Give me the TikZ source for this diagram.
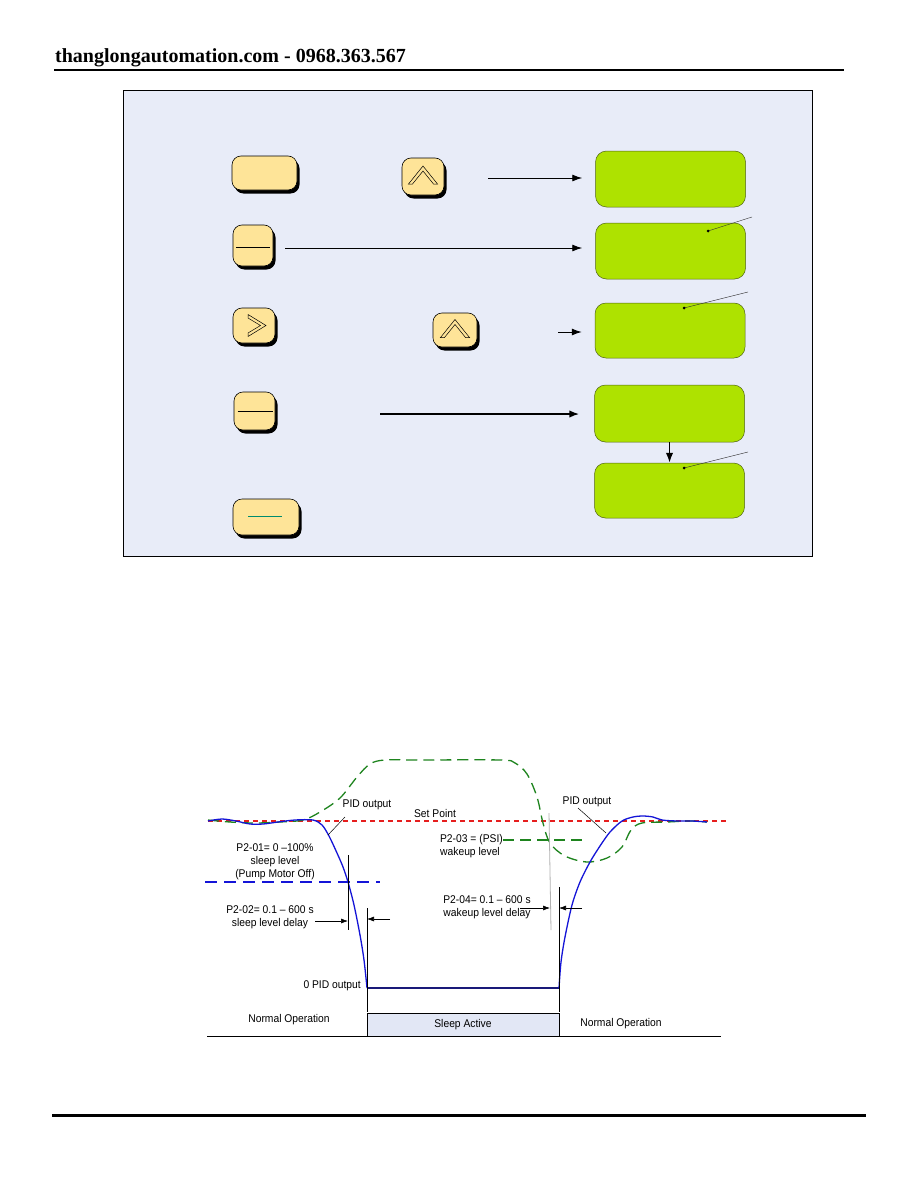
\documentclass[tikz,border=0pt]{standalone}
\usepackage{fontspec}
\setmainfont{Liberation Sans}
\newfontfamily\hdrfont{Liberation Serif}
\newfontfamily\lblfont{Liberation Sans}[FakeStretch=0.92]
\usetikzlibrary{shadows,arrows.meta}
\definecolor{panelfill}{RGB}{232,236,248}
\definecolor{btnfill}{RGB}{254,228,152}
\definecolor{lcdfill}{RGB}{174,226,0}
\definecolor{lcdline}{RGB}{80,100,20}
\definecolor{pidblue}{RGB}{20,20,215}
\definecolor{pidnavy}{RGB}{25,25,120}
\definecolor{wgreen}{RGB}{30,132,30}
\definecolor{spred}{RGB}{230,30,30}
\definecolor{sleepfill}{RGB}{226,231,245}
\definecolor{tealline}{RGB}{0,140,110}
\tikzset{
  btn/.style={rectangle, rounded corners=9pt, draw=black, line width=0.6pt, fill=btnfill,
    drop shadow={shadow xshift=2.5pt, shadow yshift=-3.5pt, fill=black, opacity=1}, inner sep=0pt},
  lcd/.style={rectangle, rounded corners=11pt, draw=lcdline, line width=0.5pt, fill=lcdfill,
    minimum width=150pt, inner sep=0pt},
  flow/.style={line width=0.9pt, -{Latex[length=10pt,width=7pt]}},
  flowthick/.style={line width=1.6pt, -{Latex[length=10pt,width=7.5pt]}},
  leader/.style={line width=0.4pt, black!80},
  chev/.style={draw=black, line width=0.5pt, fill=btnfill, line join=miter},
  lbl/.style={font=\lblfont\fontsize{11.2}{13}\selectfont, inner sep=0pt, align=center},
  dim/.style={line width=0.6pt, -{Latex[length=7pt,width=5pt]}},
}
\begin{document}
\begin{tikzpicture}[x=1pt,y=-1pt]
\useasboundingbox (0,0) rectangle (918,1188);
\fill[white] (0,0) rectangle (918,1188);

% header
\node[anchor=base west, font=\hdrfont\bfseries\fontsize{20}{24}\selectfont, inner sep=0pt] (hdr) at (55,63) {thanglongautomation.com - 0968.363.567};
\draw[line width=2pt] (54,70) -- (844,70);
% footer
\draw[line width=3pt] (52,1115) -- (866,1115);

% panel
\node[draw=black, line width=0.8pt, fill=panelfill, minimum width=689pt, minimum height=466pt, inner sep=0pt] (panel) at (467.5,323) {};

% buttons
\node[btn, minimum width=65pt, minimum height=34pt] (bA) at (264.5,173) {};
\node[btn, minimum width=42pt, minimum height=37pt] (bUp1) at (423,176.5) {};
\node[btn, minimum width=40pt, minimum height=41pt] (bB) at (253,245.5) {};
\node[btn, minimum width=42pt, minimum height=35pt] (bRt) at (254,325.5) {};
\node[btn, minimum width=44pt, minimum height=34pt] (bUp2) at (455,330) {};
\node[btn, minimum width=41pt, minimum height=38pt] (bC) at (254.5,411) {};
\node[btn, minimum width=66pt, minimum height=36pt] (bD) at (266,517) {};

% glyphs
\draw[chev] ([shift={(-14.5,7.5)}]bUp1.center) -- ([shift={(0,-10.5)}]bUp1.center) -- ([shift={(14.5,7.5)}]bUp1.center)
  -- ([shift={(10.5,7.5)}]bUp1.center) -- ([shift={(0,-5.5)}]bUp1.center) -- ([shift={(-10.5,7.5)}]bUp1.center) -- cycle;
\draw[chev] ([shift={(-14.5,7.5)}]bUp2.center) -- ([shift={(0,-10.5)}]bUp2.center) -- ([shift={(14.5,7.5)}]bUp2.center)
  -- ([shift={(10.5,7.5)}]bUp2.center) -- ([shift={(0,-5.5)}]bUp2.center) -- ([shift={(-10.5,7.5)}]bUp2.center) -- cycle;
\draw[chev] ([shift={(-6,-11)}]bRt.center) -- ([shift={(12,0)}]bRt.center) -- ([shift={(-6,11)}]bRt.center)
  -- ([shift={(-6,7.5)}]bRt.center) -- ([shift={(6.5,0)}]bRt.center) -- ([shift={(-6,-7.5)}]bRt.center) -- cycle;
\draw[line width=0.8pt] ([shift={(-17,1.5)}]bB.center) -- ([shift={(17,1.5)}]bB.center);
\draw[line width=0.8pt] ([shift={(-17,0)}]bC.center) -- ([shift={(18,0)}]bC.center);
\draw[line width=0.8pt, tealline] ([shift={(-18,-1)}]bD.center) -- ([shift={(16,-1)}]bD.center);

% LCD boxes
\node[lcd, minimum height=56pt] (g1) at (670.5,179) {};
\node[lcd, minimum height=56pt] (g2) at (670.5,251) {};
\node[lcd, minimum height=55pt] (g3) at (670,330.5) {};
\node[lcd, minimum height=57pt] (g4) at (669.5,413.5) {};
\node[lcd, minimum height=55pt] (g5) at (669.5,490.5) {};

% flow arrows
\coordinate (a1s) at (488,178);
\coordinate (a2s) at (285,248);
\coordinate (a3s) at (558,332);
\coordinate (a4s) at (380,414);
\draw[flow] (a1s) -- ([xshift=-13pt]g1.west |- a1s);
\draw[flow] (a2s) -- ([xshift=-13pt]g2.west |- a2s);
\draw[flow] (a3s) -- ([xshift=-13pt]g3.west |- a3s);
\draw[flowthick] (a4s) -- ([xshift=-15pt]g4.west |- a4s);
\draw[flowthick] (g4.south) -- (g5.north);

% leader lines
\coordinate (l1) at (752,217); \coordinate (d1) at (708,231);
\coordinate (l2) at (748,292); \coordinate (d2) at (684,308);
\coordinate (l3) at (748,452); \coordinate (d3) at (684,468);
\draw[leader] (l1) -- (d1); \fill (d1) circle (1.5pt);
\draw[leader] (l2) -- (d2); \fill (d2) circle (1.5pt);
\draw[leader] (l3) -- (d3); \fill (d3) circle (1.5pt);

% ===== chart =====
% set point
\draw[spred, line width=1.2pt, dash pattern=on 5pt off 4pt] (208,821) -- (727,821);
% sleep level
\draw[pidblue, line width=1.2pt, dash pattern=on 12pt off 7pt] (205,882) -- (380,882);
% wakeup level
\draw[wgreen, line width=1.3pt, dash pattern=on 11pt off 6pt] (503,840) -- (587,840);
% green process curve
\draw[wgreen, line width=1.3pt, dash pattern=on 11pt off 6pt] plot[smooth, tension=0.55] coordinates {
 (208,820) (230,822) (255,823) (280,822) (303,820) (320,812) (340,798) (357,777) (370,764) (385,760)
 (420,760) (500,760) (515,763) (527,774) (537,797) (543,823) (550,843) (565,856) (587,862) (607,858)
 (622,847) (631,830) (642,823) (667,822) (690,821) (707,822)};
% blue PID output
\draw[pidblue, line width=1.3pt] plot[smooth, tension=0.5] coordinates {
 (208,821) (222,819) (236,821) (250,824) (263,824) (278,822) (295,820) (313,820) (322,825) (329,836)
 (337,853) (343,867) (348,882) (354,905) (360,935) (364,960) (367,988)};
\draw[pidnavy, line width=1.4pt] (367,988) -- (559,988);
\draw[pidblue, line width=1.3pt] plot[smooth, tension=0.5] coordinates {
 (559,988) (561,962) (565,937) (572,905) (580,882) (590,862) (600,846) (610,832) (622,821)
 (633,817) (643,816) (653,817) (662,820) (677,821) (692,821) (707,822)};

% vertical markers
\draw[line width=0.6pt] (348,855) -- (348,930);
\draw[line width=0.6pt] (367,908) -- (367,1012);
\draw[line width=0.6pt] (559,887) -- (559,1012);
\draw[line width=0.8pt, black!30] (549,813) -- (551,930);

% delay arrows
\coordinate (s1) at (315,921); \coordinate (s2) at (390,919);
\coordinate (w1) at (520,908); \coordinate (w2) at (582,908);
\draw[dim] (s1) -- (348,921);
\draw[dim] (s2) -- (367,919);
\draw[dim] (w1) -- (550,908);
\draw[dim] (w2) -- (559,908);

% leader lines to labels
\draw[line width=0.5pt] (345,817) -- (328,835);
\draw[line width=0.5pt] (578,808) -- (606,833);

% labels
\node[lbl] (t1) at (367,805) {PID output};
\node[lbl] (t2) at (587,802) {PID output};
\node[lbl] (t3) at (435,813) {Set Point};
\node[lbl] (t4) at (275,862) {P2-01= 0 \textendash100\%\\sleep level\\(Pump Motor Off)};
\node[lbl, anchor=east] (t5) at (503,840) {P2-03 = (PSI)};
\node[lbl] (t5b) at (470,853) {wakeup level};
\node[lbl] (t6) at (270,917) {P2-02= 0.1 \textendash\ 600 s\\sleep level delay};
\node[lbl] (t7) at (487,907) {P2-04= 0.1 \textendash\ 600 s\\wakeup level delay};
\node[lbl, anchor=east] (t8) at (361,986) {0 PID output};

% bottom state bar
\node[draw=black, line width=0.6pt, fill=sleepfill, minimum width=192pt, minimum height=23pt, inner sep=0pt] (sleep) at (463,1024.5) {};
\node[lbl] at (sleep.center) {Sleep Active};
\node[lbl] (n1) at (289,1020) {Normal Operation};
\node[lbl] (n2) at (621,1024) {Normal Operation};
\draw[line width=0.8pt] (207,1036) -- (721,1036);
\end{tikzpicture}
\end{document}
